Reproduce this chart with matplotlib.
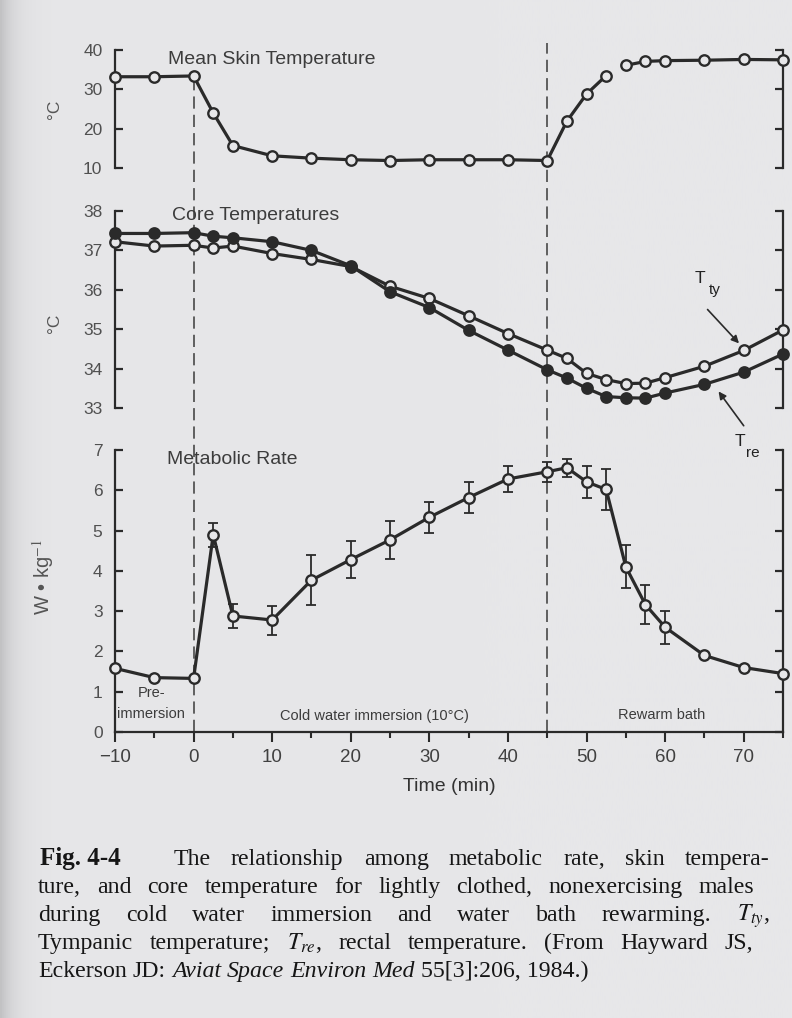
import matplotlib
matplotlib.use("Agg")
import matplotlib.pyplot as plt
import numpy as np

# ---------------- data ----------------
time_min = [-10, -5, 0, 2.5, 5, 10, 15, 20, 25, 30, 35, 40, 45, 47.5, 50, 52.5,
            55, 57.5, 60, 65, 70, 75]
skin_temp = [33.2, 33.2, 33.4, 24.0, 15.7, 13.1, 12.5, 12.1, 11.9, 12.1, 12.1, 12.1,
             11.9, 21.9, 28.8, 33.5, 36.1, 37.1, 37.3, 37.4, 37.6, 37.5]
skin_break_after = 52.5          # line is interrupted after this sample
t_re = [37.43, 37.43, 37.45, 37.36, 37.32, 37.22, 37.00, 36.61, 35.95, 35.55, 34.97,
        34.47, 33.97, 33.76, 33.50, 33.29, 33.26, 33.25, 33.38, 33.60, 33.91, 34.37]
t_ty = [37.22, 37.11, 37.13, 37.06, 37.11, 36.92, 36.77, 36.59, 36.09, 35.78, 35.34,
        34.89, 34.47, 34.26, 33.88, 33.72, 33.62, 33.63, 33.77, 34.06, 34.46, 34.98]
met_rate = [1.58, 1.35, 1.33, 4.90, 2.88, 2.78, 3.77, 4.28, 4.77, 5.33, 5.82, 6.28,
            6.46, 6.56, 6.21, 6.02, 4.10, 3.16, 2.60, 1.90, 1.60, 1.45]
met_err = [0, 0, 0, 0.30, 0.30, 0.36, 0.62, 0.45, 0.47, 0.38, 0.38, 0.33, 0.25,
           0.22, 0.40, 0.50, 0.53, 0.48, 0.41, 0, 0, 0]
phase_bounds = [0, 45]
x_major = [-10, 0, 10, 20, 30, 40, 50, 60, 70]
x_minor = [-5, 5, 15, 25, 35, 45, 55, 65, 75]
skin_ticks = [10, 20, 30, 40]
core_ticks = [33, 34, 35, 36, 37, 38]
met_ticks = [0, 1, 2, 3, 4, 5, 6, 7]

# ---------------- style ----------------
BG = "#e7e7e9"
INK = "#2a2a2a"
TXT = "#3c3c3c"
SANS = ["Liberation Sans", "DejaVu Sans"]
SERIF = ["Liberation Serif", "DejaVu Serif"]
plt.rcParams["font.family"] = SANS
plt.rcParams["mathtext.fontset"] = "stix"

W_PX, H_PX = 792, 1018
fig = plt.figure(figsize=(W_PX / 100, H_PX / 100), dpi=100, facecolor=BG)

# book-gutter shading on the left edge (decoration)
bg_ax = fig.add_axes([0, 0, 1, 1], zorder=-10)
gx = np.linspace(0, W_PX, 400)
shade = 1 - 0.16 * np.exp(-gx / 14.0)
base = np.array([0xe7, 0xe7, 0xe9]) / 255.0
img = (shade[None, :, None] * base[None, None, :])
bg_ax.imshow(img, extent=[0, W_PX, 0, H_PX], aspect="auto")
bg_ax.set_axis_off()

def fx(px):
    return px / W_PX

def fy(py):  # pixel from top -> figure fraction from bottom
    return 1 - py / H_PX

L = fx(115)
W = fx(783) - L
ax1 = fig.add_axes([L, fy(168), W, fy(50) - fy(168)])
ax2 = fig.add_axes([L, fy(408), W, fy(211) - fy(408)], sharex=ax1)
ax3 = fig.add_axes([L, fy(732), W, fy(450) - fy(732)], sharex=ax1)

# overlay for the dashed phase boundaries
ov = fig.add_axes([L, fy(732), W, fy(43) - fy(732)], sharex=ax1, zorder=0)
ov.set_ylim(0, 1)
ov.set_axis_off()

for ax, ticks in ((ax1, skin_ticks), (ax2, core_ticks), (ax3, met_ticks)):
    ax.set_zorder(2)
    ax.patch.set_visible(False)
    ax.set_ylim(ticks[0], ticks[-1])
    ax.set_yticks(ticks)
    ax.spines["top"].set_visible(False)
    for s in ("left", "right"):
        ax.spines[s].set_color(INK)
        ax.spines[s].set_linewidth(1.6)
    ax.tick_params(axis="y", direction="in", length=6, width=1.6, color=INK,
                   left=True, right=True, labelleft=True, labelright=False,
                   labelsize=12.5, labelcolor="#505050", pad=9)

for ax in (ax1, ax2):
    ax.spines["bottom"].set_visible(False)
    ax.tick_params(axis="x", which="both", bottom=False, labelbottom=False)

ax1.set_xlim(-10, 75)
ax3.spines["bottom"].set_color(INK)
ax3.spines["bottom"].set_linewidth(1.6)
ax3.set_xticks(x_major)
ax3.set_xticks(x_minor, minor=True)
ax3.set_xticklabels([str(v).replace("-", "\u2212") for v in x_major])
ax3.tick_params(axis="x", which="major", direction="out", length=7, width=1.5,
                color=INK, labelsize=13.5, labelcolor="#404040", pad=5)
ax3.tick_params(axis="x", which="minor", direction="out", length=4, width=1.5,
                color=INK)
ax3.set_xlabel("Time (min)", fontsize=14, color="#333333", labelpad=9)

# y labels
ax1.set_ylabel("°C", fontsize=12.5, color="#555555")
ax1.yaxis.set_label_coords(-0.08, 0.5)
ax2.set_ylabel("°C", fontsize=12.5, color="#555555")
ax2.yaxis.set_label_coords(-0.08, 0.43)
ax3.set_ylabel("W \u2022 kg$^{-1}$", fontsize=14.5, color="#555555")
ax3.yaxis.set_label_coords(-0.088, 0.55)

# panel titles
ax1.text(0.08, 0.99, "Mean Skin Temperature", transform=ax1.transAxes,
         ha="left", va="top", fontsize=14, color=TXT)
ax2.text(0.085, 1.02, "Core Temperatures", transform=ax2.transAxes,
         ha="left", va="top", fontsize=14, color=TXT)
ax3.text(0.078, 0.995, "Metabolic Rate", transform=ax3.transAxes,
         ha="left", va="top", fontsize=14, color=TXT)

line_kw = dict(color=INK, lw=2.3, marker="o", markersize=7.5, markeredgewidth=1.7,
               markeredgecolor=INK, clip_on=False, zorder=3)

# skin temperature (drawn with the break)
ts = np.array(time_min)
sk = np.array(skin_temp)
first = ts <= skin_break_after
ax1.plot(ts[first], sk[first], markerfacecolor=BG, **line_kw)
ax1.plot(ts[~first], sk[~first], markerfacecolor=BG, **line_kw)

# core temperatures
ax2.plot(time_min, t_ty, markerfacecolor=BG, **line_kw)
ax2.plot(time_min, t_re, markerfacecolor=INK, **line_kw)

# metabolic rate
ax3.errorbar(time_min, met_rate, yerr=met_err, fmt="none", ecolor=INK,
             elinewidth=1.3, capsize=3.5, capthick=1.3, zorder=2, clip_on=False)
ax3.plot(time_min, met_rate, markerfacecolor=BG, **line_kw)

# dashed phase boundaries (t=0 starts just under the skin curve)
skin_at0 = skin_temp[time_min.index(phase_bounds[0])]
top_disp = ax1.transData.transform((phase_bounds[0], skin_at0))
top0 = ov.transAxes.inverted().transform(top_disp)[1]
ov.axvline(phase_bounds[0], 0, top0, color="#3a3a3a", lw=1.1,
           dashes=(8, 4), zorder=1)
ov.axvline(phase_bounds[1], 0, 1, color="#3a3a3a", lw=1.1, dashes=(8, 4), zorder=1)

# phase labels
ax3.text(-5.4, 0.97, "Pre-", ha="center", va="center", fontsize=10.5, color=TXT)
ax3.text(-5.4, 0.45, "immersion", ha="center", va="center", fontsize=10.5, color=TXT)
ax3.text(23, 0.40, "Cold water immersion (10°C)", ha="center", va="center",
         fontsize=10.5, color=TXT)
ax3.text(59.5, 0.42, "Rewarm bath", ha="center", va="center", fontsize=10.5,
         color=TXT)

# T_ty and T_re annotations
ax2.annotate("", xy=(69.4, 34.64), xytext=(65.4, 35.5),
             arrowprops=dict(arrowstyle="-|>", color=INK, lw=1.2,
                             mutation_scale=11, shrinkA=0, shrinkB=0),
             annotation_clip=False, zorder=4)
ax2.text(63.8, 36.28, "T", fontsize=12.5, color="#222222", ha="left", va="center")
ax2.text(65.5, 36.0, "ty", fontsize=11, color="#222222", ha="left", va="center")
ax2.annotate("", xy=(66.8, 33.42), xytext=(70.0, 32.55),
             arrowprops=dict(arrowstyle="-|>", color=INK, lw=1.2,
                             mutation_scale=11, shrinkA=0, shrinkB=0),
             annotation_clip=False, zorder=4)
ax2.text(68.9, 32.15, "T", fontsize=12.5, color="#222222", ha="left", va="center",
         clip_on=False)
ax2.text(70.3, 31.85, "re", fontsize=11, color="#222222", ha="left", va="center",
         clip_on=False)

# ---------------- caption (justified) ----------------
renderer = fig.canvas.get_renderer()
CAP_FS = 17.2
reg = dict(fontsize=CAP_FS, family=SERIF, color="#161616", va="baseline", ha="left")
bold = dict(reg, fontweight="bold", fontsize=CAP_FS + 0.8)
ital = dict(reg, style="italic")

caption_lines = [
    ([("Fig. 4-4", bold, 2.6), ("The", reg, 1), ("relationship", reg, 1), ("among", reg, 1),
      ("metabolic", reg, 1), ("rate,", reg, 1), ("skin", reg, 1), ("tempera-", reg, 0)],
     865, 40, 770, True),
    ([(w, reg, 1) for w in "ture, and core temperature for lightly clothed, nonexercising males".split()],
     893, 38, 770, True),
    ([(w, reg, 1) for w in "during cold water immersion and water bath rewarming.".split()]
     + [(r"$T_{ty}$,", reg, 0)],
     921, 38, 770, True),
    ([("Tympanic", reg, 1), ("temperature;", reg, 1), (r"$T_{re}$,", reg, 1)]
     + [(w, reg, 1) for w in "rectal temperature. (From Hayward JS,".split()],
     949, 38, 770, True),
    ([("Eckerson", reg, 1), ("JD:", reg, 1), ("Aviat", ital, 1), ("Space", ital, 1),
      ("Environ", ital, 1), ("Med", ital, 1), ("55[3]:206, 1984.)", reg, 0)],
     977, 38, 770, False),
]

space_px = CAP_FS * 0.25 * 100 / 72
for frags, base_y, x0, x1, justify in caption_lines:
    texts = [fig.text(0, fy(base_y), s, **kw) for s, kw, _ in frags]
    widths = [t.get_window_extent(renderer).width for t in texts]
    weights = [g for _, _, g in frags]
    if justify:
        unit = (x1 - x0 - sum(widths)) / sum(weights)
    else:
        unit = space_px
    x = x0
    for t, w, g in zip(texts, widths, weights):
        t.set_x(fx(x))
        x += w + g * unit

fig.savefig("out.png", dpi=100, facecolor=BG)
